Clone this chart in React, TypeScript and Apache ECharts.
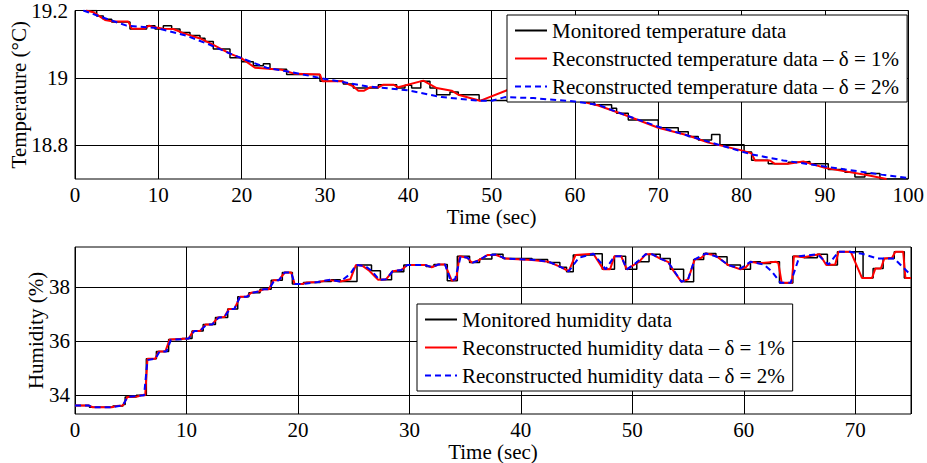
import React, { useEffect, useRef } from "react";
import * as echarts from "echarts";

const FONT = "'Liberation Serif', 'Times New Roman', serif";

// ---------- Temperature (top) ----------
const tempXTicks = { min: 0, max: 100, interval: 10 };
const tempYRange = { min: 18.7, max: 19.2 };

const tempMonitored: [number, number][] = [
  [1.3, 19.2], [2.6, 19.184], [3.4, 19.174], [4.4, 19.166], [6.6, 19.145], [8.6, 19.155],
  [9.6, 19.145], [10.6, 19.155], [11.6, 19.145], [12.6, 19.135], [13.8, 19.126], [15.0, 19.118],
  [15.6, 19.108], [16.6, 19.086], [18.6, 19.06], [20.0, 19.048], [21.4, 19.036], [22.6, 19.042],
  [23.4, 19.026], [25.4, 19.01], [29.4, 18.99], [32.2, 18.982], [33.4, 18.97], [36.4, 18.98],
  [38.6, 18.97], [39.6, 18.978], [40.4, 18.97], [41.5, 18.99], [42.6, 18.97], [43.4, 18.95],
  [45.0, 18.958], [46.0, 18.95], [48.5, 18.933], [52.0, 18.95], [56.0, 18.94], [60.0, 18.93],
  [62.3, 18.92], [64.4, 18.91], [65.0, 18.895], [66.4, 18.875], [70.0, 18.852], [72.4, 18.84],
  [73.6, 18.826], [74.8, 18.816], [76.4, 18.832], [77.4, 18.802], [80.3, 18.78], [81.2, 18.756],
  [83.2, 18.745], [85.6, 18.75], [87.4, 18.752], [88.2, 18.745], [90.4, 18.728], [92.4, 18.72],
  [93.6, 18.706], [94.8, 18.716], [96.6, 18.7], [100, 18.7],
];

const tempRecon1: [number, number][] = [
  [1.3, 19.2], [2.2, 19.195], [3.6, 19.172], [4.6, 19.167], [6.4, 19.167], [6.8, 19.146],
  [8.3, 19.146], [8.9, 19.155], [9.6, 19.15], [10.6, 19.146], [11.8, 19.145], [13.0, 19.133],
  [15.0, 19.117], [16.6, 19.098], [18.6, 19.072], [20.0, 19.058], [21.6, 19.03], [24.8, 19.024],
  [26.4, 19.012], [29.4, 19.01], [29.7, 18.99], [32.0, 18.99], [33.4, 18.975], [34.0, 18.962],
  [34.7, 18.962], [35.4, 18.972], [36.4, 18.972], [37.0, 18.98], [38.2, 18.98], [38.8, 18.972],
  [41.8, 18.992], [43.4, 18.97], [45.2, 18.962], [46.0, 18.95], [48.6, 18.932], [52.0, 18.965],
  [56.0, 18.955], [60.0, 18.935], [62.8, 18.918], [66.0, 18.89], [70.0, 18.852], [73.5, 18.83],
  [76.0, 18.808], [80.0, 18.785], [81.2, 18.776], [81.6, 18.755], [83.4, 18.755], [84.0, 18.745],
  [85.6, 18.745], [87.4, 18.752], [90.0, 18.733], [95.0, 18.712], [97.4, 18.7],
];

const tempRecon2: [number, number][] = [
  [1.0, 19.2], [3.0, 19.182], [6.2, 19.155], [9.8, 19.148], [13.4, 19.125], [16.0, 19.1],
  [19.0, 19.068], [23.0, 19.03], [26.2, 19.016], [30.0, 18.997], [35.0, 18.975], [40.0, 18.963],
  [44.0, 18.943], [48.6, 18.932], [50.0, 18.932], [51.6, 18.943], [55.0, 18.94], [60.0, 18.93],
  [62.8, 18.92], [66.0, 18.89], [70.0, 18.855], [75.0, 18.818], [81.2, 18.773], [85.0, 18.755],
  [90.0, 18.737], [96.8, 18.713], [100, 18.703],
];

// ---------- Humidity (bottom) ----------
const humXTicks = { min: 0, max: 75, interval: 10 };
const humYRange = { min: 33.3, max: 39.5 };

const humMonitored: [number, number][] = [
  [0, 33.62], [1.3, 33.55], [3.4, 33.6], [4.3, 33.65], [4.5, 33.93], [5.5, 34.0], [6.4, 35.35],
  [7.3, 35.62], [8.4, 36.07], [9.6, 36.1], [10.5, 36.38], [11.5, 36.62], [12.6, 36.88], [13.7, 37.2],
  [14.6, 37.65], [15.6, 37.8], [16.6, 37.93], [17.6, 38.27], [18.6, 38.55], [19.5, 38.13],
  [20.5, 38.18], [22.0, 38.22], [23.0, 38.28], [23.8, 38.22], [25.3, 38.83], [26.6, 38.62],
  [27.4, 38.28], [28.4, 38.58], [29.5, 38.83], [31.5, 38.78], [32.2, 38.85], [33.4, 38.25],
  [34.3, 39.16], [35.4, 38.92], [36.3, 39.05], [37.4, 39.23], [38.4, 39.07], [41.0, 39.04],
  [42.4, 38.92], [43.5, 38.75], [44.1, 38.58], [44.7, 39.2], [46.5, 39.25], [47.3, 38.67],
  [48.4, 39.16], [49.4, 38.67], [50.4, 38.95], [51.5, 39.23], [52.5, 39.07], [53.4, 38.67],
  [54.6, 38.21], [55.5, 39.04], [56.4, 39.26], [57.5, 39.14], [58.5, 38.83], [59.7, 38.67],
  [60.6, 38.95], [61.5, 38.89], [62.4, 38.95], [63.2, 38.16], [64.4, 39.16], [65.4, 39.1],
  [66.6, 39.23], [67.5, 38.83], [68.4, 39.32], [70.7, 38.35], [71.6, 38.7], [72.5, 39.07],
  [73.5, 39.32], [74.4, 38.35], [75, 38.35],
];

const humRecon1: [number, number][] = [
  [0, 33.62], [1.2, 33.62], [1.6, 33.55], [3.3, 33.55], [3.7, 33.6], [4.3, 33.62], [4.7, 33.93],
  [5.6, 33.95], [6.0, 34.0], [6.3, 34.0], [6.5, 35.35], [7.2, 35.35], [7.5, 35.62], [8.1, 35.62],
  [8.5, 36.07], [10.2, 36.1], [10.6, 36.38], [11.2, 36.38], [11.7, 36.62], [12.3, 36.62],
  [12.8, 36.88], [13.4, 36.9], [13.8, 37.2], [14.3, 37.2], [14.8, 37.65], [15.4, 37.65],
  [15.8, 37.8], [16.5, 37.85], [16.9, 37.93], [17.4, 37.93], [17.8, 38.27], [18.3, 38.27],
  [18.8, 38.55], [19.4, 38.55], [19.7, 38.13], [20.4, 38.13], [20.8, 38.18], [21.8, 38.2],
  [22.8, 38.27], [23.8, 38.22], [24.7, 38.3], [25.2, 38.83], [25.8, 38.8], [26.4, 38.62],
  [27.2, 38.28], [27.9, 38.3], [28.5, 38.6], [29.3, 38.65], [29.8, 38.83], [31.4, 38.83],
  [32.0, 38.75], [32.6, 38.85], [33.2, 38.85], [33.8, 38.25], [34.2, 38.3], [34.5, 39.16],
  [35.2, 39.1], [35.6, 38.92], [36.2, 39.0], [37.0, 39.2], [37.8, 39.2], [38.6, 39.07],
  [41.0, 39.02], [42.5, 38.95], [43.6, 38.75], [44.3, 38.6], [44.9, 39.2], [46.5, 39.25],
  [47.4, 38.67], [48.0, 38.67], [48.4, 39.16], [49.0, 39.16], [49.5, 38.67], [50.2, 38.85],
  [50.6, 38.95], [51.2, 39.23], [51.8, 39.23], [52.5, 39.07], [53.2, 38.95], [53.6, 38.67],
  [54.4, 38.21], [55.0, 38.3], [55.6, 39.04], [56.2, 39.1], [56.6, 39.26], [57.3, 39.2],
  [57.6, 39.14], [58.6, 38.83], [59.7, 38.67], [60.2, 38.75], [60.6, 38.95], [61.4, 38.9],
  [62.9, 38.95], [63.1, 38.9], [63.4, 38.17], [64.3, 38.17], [64.5, 39.16], [65.4, 39.12],
  [66.4, 39.2], [66.8, 39.23], [67.4, 38.83], [68.2, 38.85], [68.5, 39.32], [69.6, 39.32],
  [70.6, 38.35], [71.5, 38.35], [71.8, 38.7], [72.3, 38.7], [72.6, 39.07], [73.3, 39.1],
  [73.6, 39.32], [74.3, 39.32], [74.5, 38.35], [75, 38.35],
];

const humRecon2: [number, number][] = [
  [0, 33.62], [1.2, 33.62], [1.6, 33.55], [3.3, 33.55], [4.3, 33.62], [4.7, 33.93], [6.2, 34.0],
  [6.5, 35.3], [7.2, 35.35], [7.6, 35.62], [8.2, 35.62], [8.6, 36.05], [10.2, 36.1], [10.7, 36.38],
  [11.2, 36.38], [11.8, 36.62], [12.3, 36.62], [12.9, 36.88], [13.4, 36.9], [13.9, 37.2],
  [14.3, 37.2], [14.8, 37.65], [15.4, 37.65], [15.9, 37.8], [16.5, 37.85], [16.9, 37.93],
  [17.4, 37.93], [17.9, 38.27], [18.3, 38.27], [18.8, 38.55], [19.4, 38.55], [19.7, 38.13],
  [20.4, 38.13], [21.8, 38.2], [22.8, 38.28], [23.8, 38.22], [24.7, 38.5], [25.2, 38.83],
  [26.0, 38.8], [26.6, 38.62], [27.3, 38.28], [27.9, 38.3], [28.5, 38.6], [29.3, 38.65],
  [29.8, 38.83], [31.4, 38.83], [32.0, 38.75], [32.6, 38.85], [33.2, 38.85], [33.7, 38.25],
  [34.1, 38.3], [34.6, 39.16], [35.2, 39.1], [35.7, 38.92], [36.2, 39.0], [37.0, 39.2],
  [37.8, 39.22], [38.6, 39.07], [41.0, 39.03], [42.5, 38.95], [43.6, 38.75], [44.3, 38.6],
  [45.2, 39.1], [46.5, 39.25], [47.2, 38.9], [47.6, 38.67], [48.4, 39.16], [49.0, 39.16],
  [49.5, 38.67], [50.3, 38.9], [51.2, 39.23], [51.8, 39.23], [52.5, 39.07], [53.2, 38.95],
  [54.4, 38.21], [55.0, 38.3], [55.6, 39.04], [56.6, 39.26], [57.6, 39.14], [58.6, 38.83],
  [59.7, 38.7], [60.6, 38.95], [61.8, 38.85], [62.5, 38.6], [63.3, 38.17], [64.2, 38.17],
  [65.0, 39.16], [66.6, 39.23], [67.6, 38.85], [68.5, 39.32], [69.5, 39.32], [70.6, 39.25],
  [72.0, 39.07], [73.5, 39.07], [75, 38.45],
];

const tempNames = [
  "Monitored temperature data",
  "Reconstructed temperature data \u2013 \u03b4 = 1%",
  "Reconstructed temperature data \u2013 \u03b4 = 2%",
];
const humNames = [
  "Monitored humidity data",
  "Reconstructed humidity data \u2013 \u03b4 = 1%",
  "Reconstructed humidity data \u2013 \u03b4 = 2%",
];
const axisNames = { time: "Time (sec)", temp: "Temperature (\u00b0C)", hum: "Humidity (%)" };

const text = { fontFamily: FONT, fontSize: 21, color: "#000" };

export default function App() {
  const ref = useRef<HTMLDivElement>(null);
  useEffect(() => {
    if (!ref.current) return;
    const chart = echarts.init(ref.current, undefined, { renderer: "svg" });

    const humSplitColors: string[] = [];
    for (let i = 0; i < 20; i++) humSplitColors.push(i === 7 ? "#000" : "rgba(0,0,0,0)");

    const xCommon = (gridIndex: number, r: { min: number; max: number; interval: number }, gap: number) => ({
      type: "value",
      gridIndex,
      min: r.min,
      max: r.max,
      interval: r.interval,
      name: axisNames.time,
      nameLocation: "middle",
      nameGap: gap,
      nameMoveOverlap: false,
      nameTextStyle: text,
      axisLine: { show: false },
      axisTick: { show: false },
      axisLabel: { ...text, margin: 5, showMaxLabel: gridIndex === 0 },
      splitLine: { show: true, lineStyle: { color: "#000", width: 1 } },
    });

    const lineSeries = (
      name: string,
      data: [number, number][],
      idx: number,
      kind: 0 | 1 | 2
    ) => ({
      type: "line",
      name,
      xAxisIndex: idx,
      yAxisIndex: idx,
      data,
      symbol: "none",
      step: kind === 0 ? "end" : false,
      lineStyle:
        kind === 0
          ? { color: "#000", width: 1.5 }
          : kind === 1
          ? { color: "#ff0000", width: 2 }
          : { color: "#0000ff", width: 2, type: [6, 4] },
      itemStyle: { color: kind === 0 ? "#000" : kind === 1 ? "#ff0000" : "#0000ff" },
      z: 2 + kind,
      silent: true,
    });

    const legendCommon = {
      orient: "vertical",
      itemGap: 7,
      itemWidth: 32,
      itemHeight: 14,
      backgroundColor: "#fff",
      borderColor: "#000",
      borderWidth: 1,
      textStyle: { ...text, lineHeight: 21 },
      itemStyle: { opacity: 0 },
      selectedMode: false,
    };

    chart.setOption({
      animation: false,
      backgroundColor: "#fff",
      grid: [
        { left: 75, top: 10, width: 835, height: 169, show: true, borderColor: "#000", borderWidth: 1, backgroundColor: "transparent" },
        { left: 75, top: 247, width: 836, height: 169, show: true, borderColor: "#000", borderWidth: 1, backgroundColor: "transparent" },
      ],
      xAxis: [xCommon(0, tempXTicks, 27), xCommon(1, humXTicks, 27)],
      yAxis: [
        {
          type: "value",
          gridIndex: 0,
          min: tempYRange.min,
          max: tempYRange.max,
          interval: 0.1,
          name: axisNames.temp,
          nameLocation: "middle",
          nameGap: 46,
          nameMoveOverlap: false,
          nameTextStyle: text,
          axisLine: { show: false },
          axisTick: { show: false },
          axisLabel: {
            ...text,
            margin: 7,
            formatter: (v: number) => {
              const k = Math.round(v * 10);
              return k % 2 === 0 ? String(k / 10) : "";
            },
          },
          splitLine: { show: true, lineStyle: { color: ["rgba(0,0,0,0)", "#000"], width: 1 } },
        },
        {
          type: "value",
          gridIndex: 1,
          min: humYRange.min,
          max: humYRange.max,
          interval: 0.1,
          name: axisNames.hum,
          nameLocation: "middle",
          nameGap: 29,
          nameMoveOverlap: false,
          nameTextStyle: text,
          axisLine: { show: false },
          axisTick: { show: false },
          axisLabel: {
            ...text,
            margin: 5,
            formatter: (v: number) => {
              const r = Math.round(v);
              return Math.abs(v - r) < 1e-6 && r % 2 === 0 ? String(r) : "";
            },
          },
          splitLine: { show: true, lineStyle: { color: humSplitColors, width: 1 } },
        },
      ],
      legend: [
        { ...legendCommon, data: tempNames, left: 507, top: 15, padding: [5, 8, 5, 7] },
        { ...legendCommon, data: humNames, left: 417, top: 304, padding: [5, 8, 5, 7] },
      ],
      series: [
        lineSeries(tempNames[0], tempMonitored, 0, 0),
        lineSeries(tempNames[1], tempRecon1, 0, 1),
        lineSeries(tempNames[2], tempRecon2, 0, 2),
        lineSeries(humNames[0], humMonitored, 1, 0),
        lineSeries(humNames[1], humRecon1, 1, 1),
        lineSeries(humNames[2], humRecon2, 1, 2),
      ],
    });
    return () => chart.dispose();
  }, []);
  return (
    <div
      ref={ref}
      style={{ position: "absolute", left: 0, top: 0, width: 927, height: 463, background: "#fff" }}
    />
  );
}
